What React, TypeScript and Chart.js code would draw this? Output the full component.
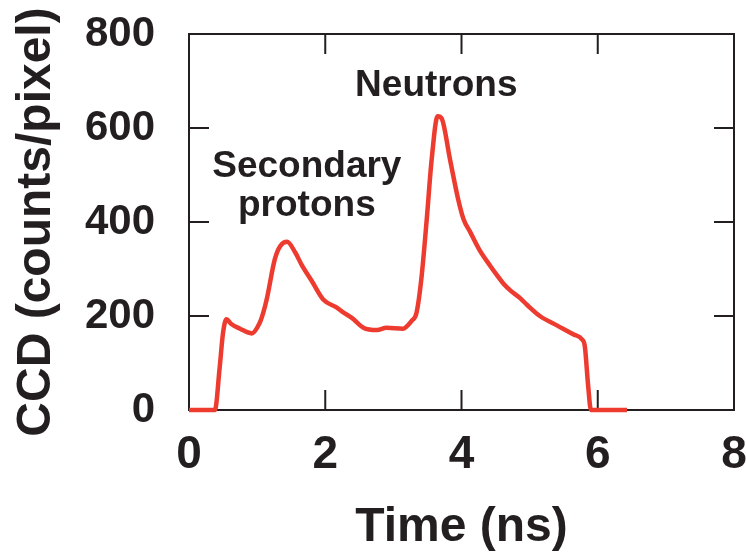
import React, { useEffect, useRef } from "react";
import { Chart, registerables } from "chart.js";

Chart.register(...registerables);

// ---- data ----
const timeNs = [
  0, 0.38, 0.45, 0.5, 0.55, 0.62, 0.75, 0.92, 1.04, 1.09, 1.14, 1.26, 1.34, 1.44,
  1.56, 1.66, 1.8, 1.97, 2.17, 2.27, 2.39, 2.56, 2.76, 2.9, 3.14, 3.27, 3.34, 3.41,
  3.49, 3.56, 3.65, 3.71, 3.83, 3.95, 4.03, 4.13, 4.27, 4.42, 4.52, 4.62, 4.72,
  4.86, 4.96, 5.15, 5.4, 5.64, 5.77, 5.81, 5.86, 5.9, 6.43,
];
const ccdCounts = [
  0, 0, 90, 165, 193, 183, 173, 163, 186, 207, 235, 321, 349, 358,
  335, 307, 275, 235, 218, 207, 196, 175, 170, 175, 173, 190, 207, 278,
  406, 530, 625, 620, 534, 449, 406, 378, 339, 307, 287, 268, 254,
  238, 224, 200, 180, 161, 150, 136, 50, 0, 0,
];
const xTickLabels = ["0", "2", "4", "6", "8"];
const yTickLabels = ["0", "200", "400", "600", "800"];
const xTitle = "Time (ns)";
const yTitle = "CCD (counts/pixel)";
const annotations = [
  { text: "Neutrons", x: 3.63, y: 690, size: 37 },
  { text: "Secondary", x: 1.73, y: 517, size: 37 },
  { text: "protons", x: 1.73, y: 434, size: 37 },
];

const INK = "#231f20";
const RED = "#ee3b30";
const FONT = '"Liberation Sans", Arial, Helvetica, sans-serif';

const framePlugin = {
  id: "frame",
  beforeDatasetsDraw(chart: any) {
    const { ctx, chartArea, scales } = chart;
    const { left, right, top, bottom } = chartArea;
    const x = scales.x;
    const y = scales.y;
    const len = 20;
    ctx.save();
    ctx.strokeStyle = INK;
    ctx.lineWidth = 2;
    ctx.strokeRect(left, top, right - left, bottom - top);
    ctx.beginPath();
    x.ticks.forEach((t: any) => {
      if (t.value > x.min && t.value < x.max) {
        const px = x.getPixelForValue(t.value);
        ctx.moveTo(px, bottom);
        ctx.lineTo(px, bottom - len);
        ctx.moveTo(px, top);
        ctx.lineTo(px, top + len);
      }
    });
    y.ticks.forEach((t: any) => {
      if (t.value > y.min && t.value < y.max) {
        const py = y.getPixelForValue(t.value);
        ctx.moveTo(left, py);
        ctx.lineTo(left + len, py);
        ctx.moveTo(right, py);
        ctx.lineTo(right - len, py);
      }
    });
    ctx.stroke();
    ctx.restore();
  },
  afterDatasetsDraw(chart: any) {
    const { ctx, scales } = chart;
    ctx.save();
    ctx.fillStyle = INK;
    ctx.textAlign = "center";
    ctx.textBaseline = "middle";
    annotations.forEach((a) => {
      ctx.font = `bold ${a.size}px ${FONT}`;
      ctx.fillText(a.text, scales.x.getPixelForValue(a.x), scales.y.getPixelForValue(a.y));
    });
    ctx.restore();
  },
};

export default function App() {
  const ref = useRef<HTMLCanvasElement | null>(null);
  useEffect(() => {
    if (!ref.current) return;
    const chart = new Chart(ref.current, {
      type: "line",
      data: {
        datasets: [
          {
            data: timeNs.map((t, i) => ({ x: t, y: ccdCounts[i] })),
            borderColor: RED,
            borderWidth: 4.5,
            pointRadius: 0,
            fill: false,
            cubicInterpolationMode: "monotone",
            clip: 6,
          } as any,
        ],
      },
      options: {
        responsive: false,
        animation: false,
        layout: { padding: { left: 0, top: 34, right: 12, bottom: 0 } },
        plugins: { legend: { display: false }, tooltip: { enabled: false } },
        scales: {
          x: {
            type: "linear",
            min: 0,
            max: 8,
            grid: { display: false },
            border: { display: false },
            ticks: {
              stepSize: 2,
              padding: 10,
              color: INK,
              font: { family: FONT, size: 46, weight: "bold" },
              maxRotation: 0,
              callback: (v: any) => xTickLabels[Math.round(Number(v) / 2)] ?? "",
            },
            title: {
              display: true,
              text: xTitle,
              color: INK,
              font: { family: FONT, size: 48, weight: "bold", lineHeight: 1 },
              padding: { top: 0, bottom: 2 },
            },
            afterFit: (s: any) => {
              s.height = 144;
              s.paddingLeft = 0;
              s.paddingRight = 0;
            },
          },
          y: {
            type: "linear",
            min: 0,
            max: 800,
            grid: { display: false },
            border: { display: false },
            ticks: {
              stepSize: 200,
              padding: 26,
              color: INK,
              font: { family: FONT, size: 42, weight: "bold" },
              callback: (v: any) => yTickLabels[Math.round(Number(v) / 200)] ?? "",
            },
            title: {
              display: true,
              text: yTitle,
              color: INK,
              font: { family: FONT, size: 48, weight: "bold", lineHeight: 1 },
              padding: { top: 13, bottom: 0 },
            },
            afterFit: (s: any) => {
              s.width = 189;
              s.paddingTop = 0;
              s.paddingBottom = 0;
            },
          },
        },
      },
      plugins: [framePlugin],
    });
    return () => chart.destroy();
  }, []);
  return (
    <div style={{ position: "absolute", left: 0, top: 0, width: 746, height: 554, background: "#fff" }}>
      <canvas ref={ref} width={746} height={554} style={{ display: "block" }} />
    </div>
  );
}
